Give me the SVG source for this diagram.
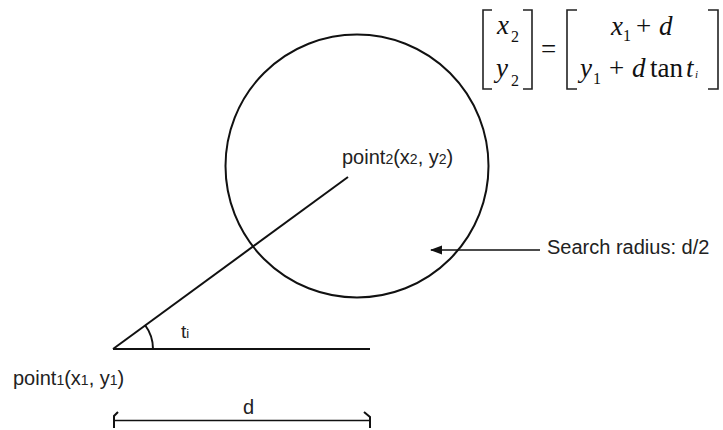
<svg xmlns="http://www.w3.org/2000/svg" width="723" height="430" viewBox="0 0 723 430">
<style>
.ln{fill:none;stroke:#111;stroke-width:2}
.thin{fill:none;stroke:#111;stroke-width:1.6}
.lbl{font-family:"Liberation Sans",Arial,sans-serif;font-size:20px;fill:#222}
.sub{font-size:14px}
.m{font-family:"Liberation Serif","Times New Roman",serif;font-size:27px;fill:#111}
.mi{font-style:italic}
.ms{font-family:"Liberation Serif","Times New Roman",serif;font-size:16px;fill:#111}
.br{fill:none;stroke:#222;stroke-width:1.6}
</style>
<defs>
<marker id="ah" viewBox="0 0 12 10" refX="11" refY="5" markerWidth="12" markerHeight="10" markerUnits="userSpaceOnUse" orient="auto">
<path d="M0,0.5 L12,5 L0,9.5 Z" fill="#111"/>
</marker>
</defs>
<rect width="723" height="430" fill="#fff"/>
<g id="circle">
<circle class="ln" cx="357" cy="166" r="131.5"/>
</g>
<g id="connectors">
<path class="ln" d="M113,349 L348,177"/>
<path class="ln" d="M113,349 H370"/>
<path class="ln" d="M145,325 A40,40 0 0 1 153,349"/>
<path class="thin" d="M540,250 H431" marker-end="url(#ah)"/>
<path class="thin" d="M114,420.5 H370"/>
<path class="ln" d="M114,428 V416 L118,412"/>
<path class="ln" d="M370,428 V417 L364,412"/>
</g>
<g id="point1">
<text class="lbl" x="13" y="385">point<tspan class="sub">1</tspan>(x<tspan class="sub">1</tspan>, y<tspan class="sub">1</tspan>)</text>
</g>
<g id="point2">
<text class="lbl" x="342" y="164">point<tspan class="sub">2</tspan>(x<tspan class="sub">2</tspan>, y<tspan class="sub">2</tspan>)</text>
</g>
<g id="angle">
<text class="lbl" x="181" y="338" style="font-size:19px">t<tspan class="sub" style="font-size:13px">i</tspan></text>
</g>
<g id="dlabel">
<text class="lbl" x="243" y="414">d</text>
</g>
<g id="search">
<text class="lbl" x="547" y="254">Search radius: d/2</text>
</g>
<g id="equation">
<path class="br" d="M492,10 H483 V89 H492"/>
<path class="br" d="M523,10 H532 V89 H523"/>
<path class="br" d="M577,10 H567 V89 H577"/>
<path class="br" d="M708,10 H718 V89 H708"/>
<text class="m mi" x="497" y="34">x</text>
<text class="ms" x="511" y="42">2</text>
<text class="m mi" x="496" y="77">y</text>
<text class="ms" x="511" y="86">2</text>
<text class="m" x="541" y="58">=</text>
<text class="m mi" x="611" y="35">x</text>
<text class="ms" x="623" y="41">1</text>
<text class="m" x="636" y="35">+</text>
<text class="m mi" x="659" y="35">d</text>
<text class="m mi" x="580" y="77">y</text>
<text class="ms" x="593" y="84">1</text>
<text class="m" x="609" y="77">+</text>
<text class="m mi" x="632" y="77">d</text>
<text class="m" x="650" y="77">tan</text>
<text class="m mi" x="686" y="77">t</text>
<text class="ms mi" x="695" y="78" style="font-size:11px">i</text>
</g>
</svg>
